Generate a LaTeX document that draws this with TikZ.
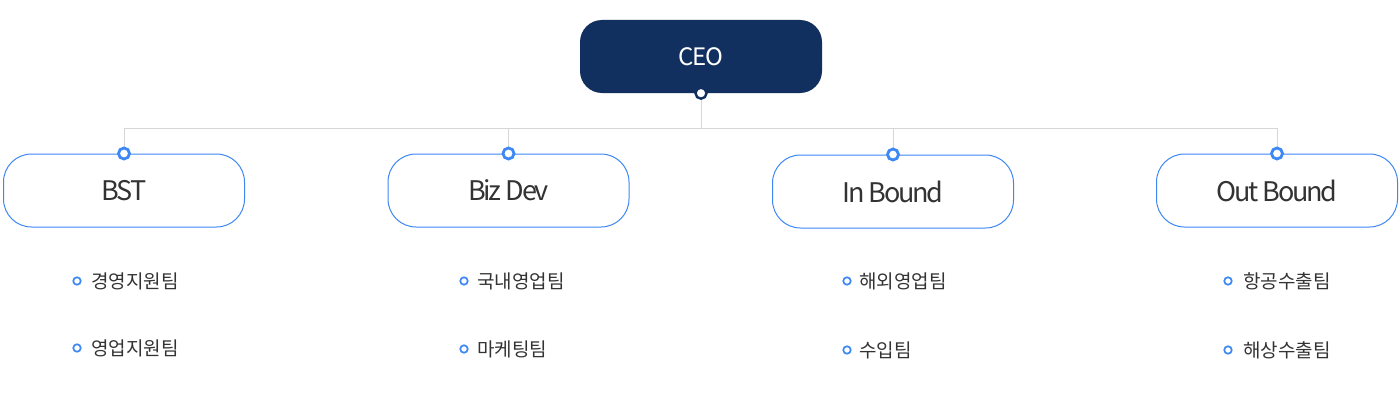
\documentclass[tikz,border=0pt]{standalone}
\usepackage{fontspec}
\setmainfont{Noto Sans CJK KR}
\definecolor{navy}{HTML}{12305F}
\definecolor{bblue}{HTML}{3D88F5}
\definecolor{lgray}{HTML}{D6D6D6}
\definecolor{txt}{HTML}{333333}
\begin{document}
\begin{tikzpicture}[x=1pt,y=-1pt,
  ceobox/.style={fill=navy, rounded corners=22pt, minimum width=242pt, minimum height=73pt, text=white, font=\fontsize{24}{26}\selectfont\addfontfeatures{LetterSpace=-5}, inner sep=0pt},
  teambox/.style={draw=bblue, line width=1pt, fill=white, rounded corners=28pt, minimum width=241pt, minimum height=73pt, text=txt, font=\fontsize{27}{30}\selectfont\addfontfeatures{LetterSpace=-8}, inner sep=0pt},
  topdot/.style={circle, draw=bblue, line width=2.8pt, fill=white, minimum size=11pt, inner sep=0pt},
  ceodot/.style={circle, draw=navy, line width=2.4pt, fill=white, minimum size=11pt, inner sep=0pt},
  bul/.style={circle, draw=bblue, line width=1.7pt, fill=white, minimum size=7.5pt, inner sep=0pt},
  item/.style={anchor=west, text=txt, font=\fontsize{19}{22}\selectfont, inner sep=0pt},
  conn/.style={draw=lgray, line width=1pt}
]
\useasboundingbox (0,0) rectangle (1400,420);
\fill[white] (0,0) rectangle (1400,420);

\coordinate (bus) at (701,128);
\node[ceobox] (ceo) at (701,56.5) {CEO};
\node[teambox] (bst) at (124,190.5) {BST};
\node[teambox] (biz) at (508.5,190.5) {Biz Dev};
\node[teambox] (inb) at (893,191.5) {In Bound};
\node[teambox] (outb) at (1277,190.5) {Out Bound};

\coordinate (b1) at (bst.north |- bus);
\coordinate (b4) at (outb.north |- bus);
\draw[conn] (ceo.south) -- (bus);
\draw[conn] (b1) -- (b4);
\draw[conn] (b1) -- (bst.north);
\draw[conn] (biz.north |- bus) -- (biz.north);
\draw[conn] (inb.north |- bus) -- (inb.north);
\draw[conn] (b4) -- (outb.north);

\node[ceodot] (cd) at (ceo.south) {};
\node[topdot] (d1) at (bst.north) {};
\node[topdot] (d2) at (biz.north) {};
\node[topdot] (d3) at (inb.north) {};
\node[topdot] (d4) at (outb.north) {};

\node[bul] (p11) at (77,281) {};
\node[item] (t11) at (91,281) {경영지원팀};
\node[bul] (p12) at (77,348) {};
\node[item] (t12) at (91,348) {영업지원팀};

\node[bul] (p21) at (464,281) {};
\node[item] (t21) at (477,281) {국내영업팀};
\node[bul] (p22) at (464,349) {};
\node[item] (t22) at (477,349) {마케팅팀};

\node[bul] (p31) at (847,281) {};
\node[item] (t31) at (859,281) {해외영업팀};
\node[bul] (p32) at (847,350) {};
\node[item] (t32) at (859,350) {수입팀};

\node[bul] (p41) at (1228,281) {};
\node[item] (t41) at (1243,281) {항공수출팀};
\node[bul] (p42) at (1228,350) {};
\node[item] (t42) at (1243,350) {해상수출팀};
\end{tikzpicture}
\end{document}
